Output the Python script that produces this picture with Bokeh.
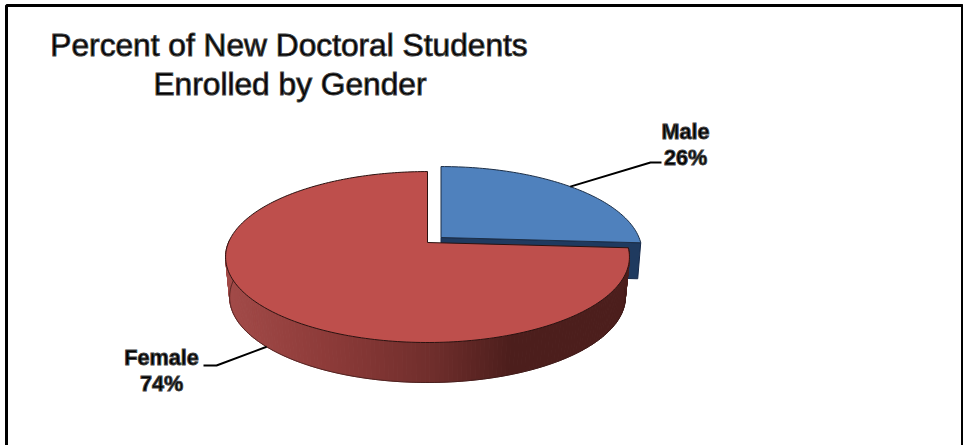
import numpy as np
from bokeh.plotting import figure
from bokeh.embed import file_html
from bokeh.resources import INLINE
from bokeh.core.properties import value

title_lines = ["Percent of New Doctoral Students", "Enrolled by Gender"]
genders = ["Male", "Female"]
percents = [26, 74]
top_colors = ["#4F81BD", "#BE4F4C"]
wall_dark = "#1F3A5F"
red_stops_x = [228, 330, 430, 510, 632]
red_stops_c = [(162, 74, 72), (140, 58, 56), (112, 46, 44), (76, 30, 28), (76, 30, 28)]

R, A, K = 199.0, 83.0, 0.17
R_male = 198.0
Rb = 195.0
DEPTH = 40.0
DEPTH_MALE = 36.0
centers = {"Male": (440.5, 237.0), "Female": (427.0, 242.0)}


def proj(theta, c, r=R):
    u, v = np.sin(theta), np.cos(theta)
    w = 1 + K * v
    return c[0] + r * u / w, c[1] - A * v / w


def hex_rgb(t):
    return "#%02x%02x%02x" % tuple(int(round(x)) for x in t)


def ramp(x):
    return hex_rgb([np.interp(x, red_stops_x, [s[i] for s in red_stops_c]) for i in range(3)])


p = figure(width=963, height=445, output_backend="svg", toolbar_location=None,
           x_range=(0, 963), y_range=(445, 0),
           min_border=0, outline_line_color=None)
p.axis.visible = False
p.grid.visible = False
p.background_fill_color = "white"
p.border_fill_color = "white"

total = sum(percents)
male_a = 2 * np.pi * percents[0] / total
arc_m = np.linspace(0, male_a, 80)
arc_f = np.linspace(male_a, 2 * np.pi, 240)

cm, cf = centers["Male"], centers["Female"]
xe, ye = proj(male_a, cm, R_male)
xb, yb = proj(male_a, cm, R_male - 3)
p.patch([cm[0], xe, xb, cm[0]], [cm[1], ye, yb + DEPTH_MALE, cm[1] + DEPTH_MALE],
        fill_color=wall_dark, line_color="#16294a", line_width=1)
xs, ys = proj(arc_m, cm, R_male)
p.patch([cm[0]] + list(xs), [cm[1]] + list(ys), fill_color=top_colors[0], line_color="#1d2f47", line_width=1)

front = arc_f[(arc_f < 1.5 * np.pi + 0.05)]
sx, sy, sc = [], [], []
for a0, a1 in zip(front[:-1], front[1:]):
    x0, y0 = proj(a0, cf)
    x1, y1 = proj(a1, cf)
    bx0, by0 = proj(a0, cf, Rb)
    bx1, by1 = proj(a1, cf, Rb)
    sx.append([x0, x1, bx1, bx0])
    sy.append([y0, y1, by1 + DEPTH, by0 + DEPTH])
    sc.append(ramp((x0 + x1) / 2))
p.patches(sx, sy, fill_color=sc, line_color=sc, line_width=1)
bxs, bys = proj(front, cf, Rb)
p.line(bxs, bys + DEPTH, line_color="#3a1a18", line_width=1, line_alpha=0.7)
xs, ys = proj(arc_f, cf)
p.patch([cf[0]] + list(xs), [cf[1]] + list(ys), fill_color=top_colors[1], line_color="#2a1210", line_width=1)

mid_m = male_a / 2
lx, ly = proj(mid_m, cm, R_male)
p.line([lx, 650, 661], [ly, 162, 162], line_color="black", line_width=2)
mid_f = male_a + (2 * np.pi - male_a) / 2
lx, ly = proj(mid_f, cf, Rb)
p.line([lx, 216, 203], [ly + DEPTH, 365, 365], line_color="black", line_width=2)

font = value("Liberation Sans")
for (g, v), cx, y0 in zip(zip(genders, percents), [685, 161], [131, 357]):
    p.text([cx, cx], [y0, y0 + 26], text=[g, f"{v}%"], text_font=font, text_font_size="21.6px",
           text_font_style="bold", text_align="center", text_baseline="middle", text_color="black",
           text_outline_color="#444444")
p.text([288.5, 289.5], [44, 83], text=title_lines, text_font=font, text_font_size="31.7px",
       text_font_style="normal", text_align="center", text_baseline="middle", text_color="black",
       text_outline_color="#444444")

p.line([6, 6, 962, 962], [445, 5, 5, 445], line_color="black", line_width=3)

open("out.html", "w").write(file_html(p, INLINE))
